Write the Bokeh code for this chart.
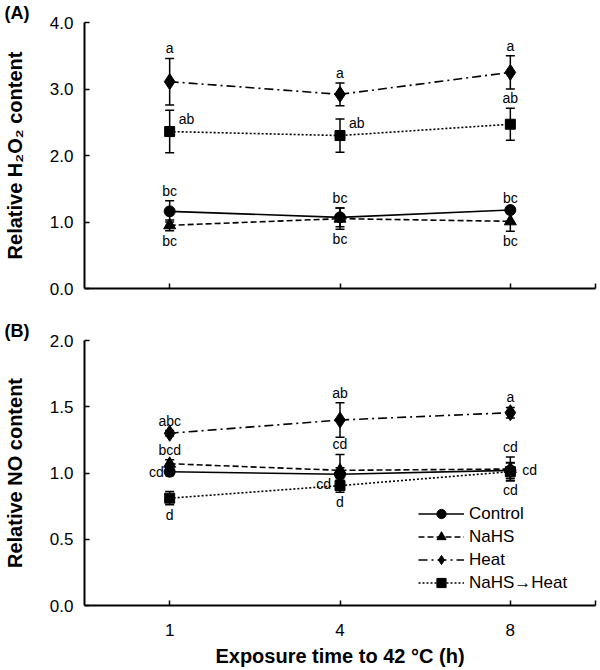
from bokeh.plotting import figure
from bokeh.layouts import column
from bokeh.models import (ColumnDataSource, Whisker, TeeHead, FixedTicker, Range1d,
                          Legend, LegendItem, NumeralTickFormatter)
from bokeh.core.properties import value
from bokeh.embed import file_html
from bokeh.resources import INLINE

# ---------------- data ----------------
times = ["1", "4", "8"]
series = ["Control", "NaHS", "Heat", "NaHS\u2192Heat"]

# Panel A: relative H2O2 content (mean, error)
h2o2_control = [1.16, 1.07, 1.18]
h2o2_control_err = [0.16, 0.14, 0.03]
h2o2_nahs = [0.95, 1.05, 1.01]
h2o2_nahs_err = [0.08, 0.16, 0.15]
h2o2_heat = [3.11, 2.92, 3.25]
h2o2_heat_err = [0.35, 0.17, 0.25]
h2o2_nahs_heat = [2.36, 2.30, 2.47]
h2o2_nahs_heat_err = [0.32, 0.25, 0.24]

h2o2_letters_control = ["bc", "bc", "bc"]
h2o2_letters_nahs = ["bc", "bc", "bc"]
h2o2_letters_heat = ["a", "a", "a"]
h2o2_letters_nahs_heat = ["ab", "ab", "ab"]

# Panel B: relative NO content (mean, error)
no_control = [1.01, 0.99, 1.02]
no_control_err = [0.03, 0.05, 0.06]
no_nahs = [1.07, 1.02, 1.03]
no_nahs_err = [0.03, 0.12, 0.09]
no_heat = [1.30, 1.40, 1.455]
no_heat_err = [0.02, 0.13, 0.04]
no_nahs_heat = [0.81, 0.905, 1.01]
no_nahs_heat_err = [0.05, 0.05, 0.065]

no_letters_control = ["cd", "cd", "cd"]
no_letters_nahs = ["bcd", "cd", "cd"]
no_letters_heat = ["abc", "ab", "a"]
no_letters_nahs_heat = ["d", "d", "cd"]

# ---------------- styles ----------------
FONT = "Liberation Sans"
styles = {
    "Control": dict(dash="solid", marker="circle", size=11),
    "NaHS": dict(dash="6 3", marker="triangle", size=12),
    "Heat": dict(dash="9 4 2 4", marker="diamond", size=16),
    "NaHS\u2192Heat": dict(dash="2 2", marker="square", size=10),
}

placement_A = {
    "Control": ["above", "above", "above"],
    "NaHS": ["below", "below", "below"],
    "Heat": ["above", "above", "above"],
    "NaHS\u2192Heat": ["ur", "ur", "above"],
}
placement_B = {
    "Control": ["left", "lb", "right"],
    "NaHS": ["above", "above", "above"],
    "Heat": ["above", "above", "above"],
    "NaHS\u2192Heat": ["below", "below", "below"],
}
place_style = {
    "above": dict(anchor="upper", xo=0, yo=-2, align="center", base="bottom"),
    "below": dict(anchor="lower", xo=0, yo=2, align="center", base="top"),
    "ur": dict(anchor="mid", xo=9, yo=-5, align="left", base="bottom"),
    "left": dict(anchor="mid", xo=-6, yo=0, align="right", base="middle"),
    "lb": dict(anchor="mid", xo=-9, yo=2, align="right", base="top"),
    "right": dict(anchor="mid", xo=12, yo=0, align="left", base="middle"),
}

LEFT = 81
RIGHT = 2
FRAME_W = 514


def make_panel(height, top, bottom, ymax, ystep, ylabel, data, letters, placement,
               show_xlabels, panel_tag, legend=False):
    p = figure(width=LEFT + FRAME_W + RIGHT, height=height, output_backend="svg",
               toolbar_location=None, title=panel_tag,
               x_range=Range1d(-0.5, len(times) - 0.5), y_range=Range1d(0, ymax),
               min_border_left=LEFT, min_border_right=RIGHT, min_border_top=top,
               min_border_bottom=bottom)
    p.outline_line_color = None
    p.xgrid.visible = False
    p.ygrid.visible = False
    p.background_fill_color = "white"

    # panel tag as title, pushed to the left edge
    p.title.align = "left"
    p.title.offset = -(LEFT - 1)
    p.title.standoff = 0
    p.title.text_font = FONT
    p.title.text_font_size = "18px"
    p.title.text_font_style = "bold"
    p.title.text_color = "black"

    xs = list(range(len(times)))
    legend_items = []
    for name in series:
        vals, errs = data[name]
        st = styles[name]
        src = ColumnDataSource(dict(
            x=xs, y=vals,
            upper=[v + e for v, e in zip(vals, errs)],
            lower=[v - e for v, e in zip(vals, errs)]))
        lr = p.line("x", "y", source=src, line_color="black", line_width=1.6,
                    line_dash=st["dash"])
        w = Whisker(source=src, base="x", upper="upper", lower="lower",
                    line_color="black", line_width=1.5,
                    upper_head=TeeHead(size=9, line_color="black", line_width=1.5),
                    lower_head=TeeHead(size=9, line_color="black", line_width=1.5))
        p.add_layout(w)
        mr = p.scatter("x", "y", source=src, marker=st["marker"], size=st["size"],
                       fill_color="black", line_color="black")
        legend_items.append(LegendItem(label=name, renderers=[lr, mr]))

        for i, (lab, where) in enumerate(zip(letters[name], placement[name])):
            ps = place_style[where]
            yv = {"upper": vals[i] + errs[i], "lower": vals[i] - errs[i],
                  "mid": vals[i]}[ps["anchor"]]
            p.text(x=[xs[i]], y=[yv], text=[lab], x_offset=ps["xo"], y_offset=ps["yo"],
                   text_align=ps["align"], text_baseline=ps["base"],
                   text_font=value(FONT), text_font_size="14px", text_color="black")

    ya = p.yaxis[0]
    ya.ticker = FixedTicker(ticks=[ystep * k for k in range(int(round(ymax / ystep)) + 1)])
    ya.formatter = NumeralTickFormatter(format="0.0")
    ya.axis_line_width = 2
    ya.major_tick_in = 5
    ya.major_tick_out = 0
    ya.minor_tick_line_color = None
    ya.major_tick_line_width = 1.5
    ya.major_label_standoff = 11
    ya.major_label_text_font = FONT
    ya.major_label_text_font_size = "17px"
    ya.major_label_text_color = "black"
    ya.axis_label = ylabel
    ya.axis_label_text_font = FONT
    ya.axis_label_text_font_size = "20px"
    ya.axis_label_text_font_style = "bold"
    ya.axis_label_text_color = "black"
    ya.axis_label_standoff = 21

    xa = p.xaxis[0]
    xa.ticker = FixedTicker(ticks=xs + [len(times) - 0.5])
    overrides = {len(times) - 0.5: ""}
    for i, t in enumerate(times):
        overrides[i] = t if show_xlabels else ""
    xa.major_label_overrides = overrides
    xa.axis_line_width = 2
    xa.major_tick_in = 5
    xa.major_tick_out = 0
    xa.major_tick_line_width = 1.5
    xa.minor_tick_line_color = None
    xa.major_label_text_font = FONT
    xa.major_label_text_font_size = "17px"
    xa.major_label_text_color = "black"
    xa.major_label_standoff = 18
    if show_xlabels:
        xa.axis_label = "Exposure time to 42 \u00b0C (h)"
        xa.axis_label_text_font = FONT
        xa.axis_label_text_font_size = "20px"
        xa.axis_label_text_font_style = "bold"
        xa.axis_label_text_color = "black"
        xa.axis_label_standoff = 6

    if legend:
        lg = Legend(items=legend_items, location=(334, 11), glyph_width=46,
                    glyph_height=23, label_height=23, label_standoff=5, spacing=0,
                    padding=0, margin=0, border_line_color=None,
                    background_fill_alpha=0, label_text_font=FONT,
                    label_text_font_size="17px", label_text_color="black")
        p.add_layout(lg)
    return p


data_A = {
    "Control": (h2o2_control, h2o2_control_err),
    "NaHS": (h2o2_nahs, h2o2_nahs_err),
    "Heat": (h2o2_heat, h2o2_heat_err),
    "NaHS\u2192Heat": (h2o2_nahs_heat, h2o2_nahs_heat_err),
}
letters_A = {
    "Control": h2o2_letters_control,
    "NaHS": h2o2_letters_nahs,
    "Heat": h2o2_letters_heat,
    "NaHS\u2192Heat": h2o2_letters_nahs_heat,
}
data_B = {
    "Control": (no_control, no_control_err),
    "NaHS": (no_nahs, no_nahs_err),
    "Heat": (no_heat, no_heat_err),
    "NaHS\u2192Heat": (no_nahs_heat, no_nahs_heat_err),
}
letters_B = {
    "Control": no_letters_control,
    "NaHS": no_letters_nahs,
    "Heat": no_letters_heat,
    "NaHS\u2192Heat": no_letters_nahs_heat,
}

# panel A: frame 268 px tall; panel B: frame 267 px tall
pA = make_panel(318, 20, 30, 4.0, 1.0, "Relative H\u2082O\u2082 content", data_A, letters_A,
                placement_A, False, "(A)")
pB = make_panel(352, 20, 65, 2.0, 0.5, "Relative NO content", data_B, letters_B,
                placement_B, True, "(B)", legend=True)

layout = column(pA, pB)
open("out.html", "w").write(file_html(layout, INLINE))
